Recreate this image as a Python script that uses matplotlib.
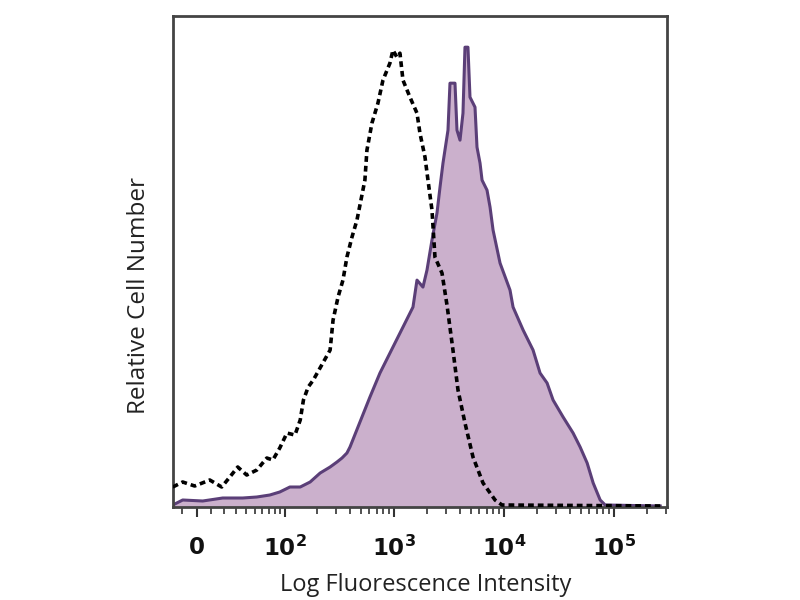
import matplotlib
matplotlib.use("Agg")
import matplotlib.pyplot as plt
import numpy as np

# Fluorescence intensity (channel value) and relative counts
ctrl_x = [-17, -9.7, -1.4, 9, 17.8, 24.4, 31.5, 40.6, 52.6, 66.8, 76.7, 89.6, 105, 125,
          140, 150, 166, 185, 264, 281, 312, 346, 376, 418, 464, 494, 548, 572, 635,
          720, 800, 925, 986, 1072, 1141, 1216, 1407, 1630, 1734, 1927, 2051, 2230,
          2374, 2750, 3053, 3459, 3843, 4447, 5257, 6484, 8340, 9650, 263600]
ctrl_y = [20, 25, 21, 27, 20, 30, 40, 32, 37, 49, 47, 59, 74, 72,
          87, 107, 120, 127, 157, 187, 210, 227, 250, 270, 287, 302, 327, 357, 384,
          404, 427, 444, 457, 450, 454, 427, 410, 394, 374, 350, 327, 297,
          250, 234, 202, 157, 117, 84, 50, 24, 7, 2, 1]

stain_x = [-17, -9.7, 4.1, 18.6, 36.4, 52.6, 71.6, 89.6, 112, 140, 173, 214, 264, 305,
           339, 376, 401, 609, 751, 986, 1216, 1499, 1630, 1847, 2009, 2230, 2476,
           2638, 2807, 3117, 3250, 3608, 3762, 4008, 4264, 4447, 4732, 4938, 5483,
           5717, 6092, 6354, 7048, 7510, 8000, 9257, 11400, 12150, 15000, 18460,
           21370, 24760, 28060, 34600, 42640, 49400, 57200, 64900, 75100, 83400, 263600]
stain_y = [2, 7, 6, 9, 9, 10, 12, 15, 20, 20, 25, 34, 40, 45,
           49, 54, 60, 110, 134, 160, 180, 200, 227, 220, 237, 267, 294,
           320, 344, 377, 424, 424, 377, 367, 394, 460, 460, 410, 400,
           360, 344, 327, 317, 300, 277, 244, 217, 200, 177, 157,
           134, 124, 107, 90, 74, 60, 44, 24, 7, 2, 1]

major_ticks = [0, 1e2, 1e3, 1e4, 1e5]
major_labels = ["0", r"$\mathbf{10^{2}}$", r"$\mathbf{10^{3}}$", r"$\mathbf{10^{4}}$", r"$\mathbf{10^{5}}$"]

plt.rcParams['mathtext.fontset'] = 'dejavusans'
fig = plt.figure(figsize=(8, 6), dpi=100)
ax = fig.add_axes([0.216, 0.155, 0.618, 0.818])
ax.set_xscale('asinh', linear_width=32.6)

ax.fill_between(stain_x, stain_y, 0, color='#cbb0cc', zorder=1, linewidth=0)
ax.plot(stain_x, stain_y, color='#5b3f78', linewidth=2.2, zorder=2)
ax.plot(ctrl_x, ctrl_y, color='black', linewidth=2.6, linestyle=(0, (1.6, 1.1)), zorder=3)

ax.set_xlim(-17, 305000)
ax.set_ylim(0, 491)

ax.set_xticks(major_ticks)
ax.set_xticklabels(major_labels)
minor = [-10] + [m * d for d in [10, 100, 1000, 10000] for m in range(1, 10) if not (m == 1 and d > 10)] + [2e5, 3e5]
minor = [v for v in minor if v not in major_ticks]
ax.set_xticks(minor, minor=True)
ax.set_yticks([])
ax.tick_params(axis='x', which='major', direction='out', length=7, width=1.5,
               color='#333333', pad=14, labelsize=16.5)
ax.tick_params(axis='x', which='minor', direction='out', length=5, width=1.2, color='#333333')
for lab in ax.get_xticklabels():
    lab.set_fontweight('bold')
    lab.set_family('DejaVu Sans')
    lab.set_color('#111111')

for s in ax.spines.values():
    s.set_color('#444444')
    s.set_linewidth(2)

ax.set_xlabel('Log Fluorescence Intensity', family='Open Sans', fontsize=17, color='#222222')
ax.xaxis.set_label_coords(0.512, -0.135)
ax.set_ylabel('Relative Cell Number', family='Open Sans', fontsize=17.5, color='#222222')
ax.yaxis.set_label_coords(-0.045, 0.43)

fig.savefig('out.png', dpi=100)
